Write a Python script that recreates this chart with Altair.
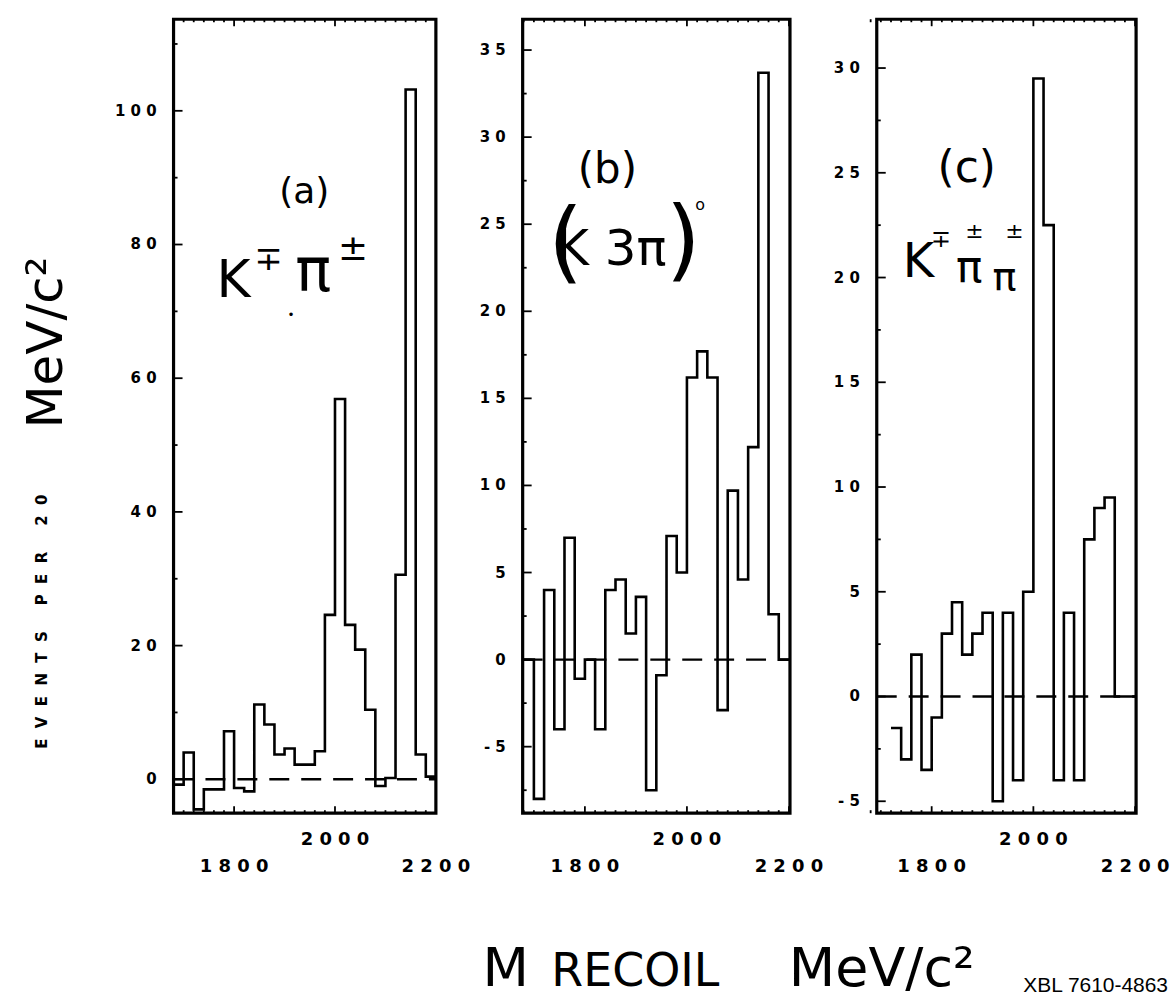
import altair as alt
import pandas as pd

BOLD = "DejaVu Sans"
HAND = "DejaVu Sans"
NB = "\u00a0"

# ---------------- data ----------------
a_bins = [1680, 1700, 1720, 1740, 1760, 1780, 1800, 1820, 1840, 1860, 1880, 1900, 1920,
          1940, 1960, 1980, 2000, 2020, 2040, 2060, 2080, 2100, 2120, 2140, 2160, 2180]
a_counts = [-0.8, 4.0, -4.5, -1.5, -1.5, 7.2, -1.3, -1.8, 11.2, 8.2, 3.7, 4.6, 2.2,
            2.2, 4.2, 24.6, 56.9, 23.1, 19.4, 10.4, -1.0, 0.2, 30.6, 103.2, 3.7, 0.4]

b_bins = [1680, 1700, 1720, 1740, 1760, 1780, 1800, 1820, 1840, 1860, 1880, 1900, 1920,
          1940, 1960, 1980, 2000, 2020, 2040, 2060, 2080, 2100, 2120, 2140, 2160, 2180]
b_counts = [0.0, -8.0, 4.0, -4.0, 7.0, -1.1, 0.0, -4.0, 4.0, 4.6, 1.5, 3.6, -7.5,
            -0.9, 7.1, 5.0, 16.2, 17.7, 16.2, -2.9, 9.7, 4.6, 12.2, 33.7, 2.6, 0.0]

c_bins = [1720, 1740, 1760, 1780, 1800, 1820, 1840, 1860, 1880, 1900, 1920, 1940,
          1960, 1980, 2000, 2020, 2040, 2060, 2080, 2100, 2120, 2140, 2160, 2180]
c_counts = [-1.5, -3.0, 2.0, -3.5, -1.0, 3.0, 4.5, 2.0, 3.0, 4.0, -5.0, 4.0,
            -4.0, 5.0, 29.5, 22.5, -4.0, 4.0, -4.0, 7.5, 9.0, 9.5, 0.0, 0.0]

x_end = 2200

x_major = [1800, 2000, 2200]
x_major_labels = ["1 8 0 0", "2 0 0 0", "2 2 0 0"]
x_minor = [1680, 1700, 1720, 1740, 1760, 1780, 1820, 1840, 1860, 1880, 1900, 1920, 1940,
           1960, 1980, 2020, 2040, 2060, 2080, 2100, 2120, 2140, 2160, 2180]

a_y_major = [0, 20, 40, 60, 80, 100]
a_y_labels = ["0", "2 0", "4 0", "6 0", "8 0", "1 0 0"]
a_y_minor = [10, 30, 50, 70, 90, 110]
b_y_major = [-5, 0, 5, 10, 15, 20, 25, 30, 35]
b_y_labels = ["- 5", "0", "5", "1 0", "1 5", "2 0", "2 5", "3 0", "3 5"]
b_y_minor = [-7.5, -2.5, 2.5, 7.5, 12.5, 17.5, 22.5, 27.5, 32.5]
c_y_major = [-5, 0, 5, 10, 15, 20, 25, 30]
c_y_labels = ["- 5", "0", "5", "1 0", "1 5", "2 0", "2 5", "3 0"]
c_y_minor = [-2.5, 2.5, 7.5, 12.5, 17.5, 22.5, 27.5]

H = 796
ONE = [{}]


def panel(bins, counts, xdom, ydom, W, ymajor, ylabels, yminor, notes, extra):
    xs = alt.Scale(domain=xdom, nice=False, zero=False)
    ys = alt.Scale(domain=ydom, nice=False, zero=False)

    hist_df = pd.DataFrame({"m": bins + [x_end], "n": counts + [counts[-1]]})
    hist = alt.Chart(hist_df).mark_line(
        interpolate="step-after", color="black", strokeWidth=2.6, strokeJoin="miter"
    ).encode(
        x=alt.X("m:Q", scale=xs, axis=None),
        y=alt.Y("n:Q", scale=ys, axis=None),
    )

    zero = alt.Chart(pd.DataFrame({"m": [xdom[0]], "m2": [xdom[1]], "n": [0]})).mark_rule(
        color="black", strokeWidth=2.4, strokeDash=[20, 12]
    ).encode(
        x=alt.X("m:Q", scale=xs, axis=None), x2="m2:Q",
        y=alt.Y("n:Q", scale=ys, axis=None),
    )

    def xt(vals, length, top):
        return alt.Chart(pd.DataFrame({"m": vals})).mark_rule(color="black", strokeWidth=1.8).encode(
            x=alt.X("m:Q", scale=xs, axis=None),
            y=alt.value(0 if top else H),
            y2=alt.value(length if top else H - length),
        )

    def yt(vals, length):
        return alt.Chart(pd.DataFrame({"n": vals})).mark_rule(color="black", strokeWidth=1.8).encode(
            y=alt.Y("n:Q", scale=ys, axis=None),
            x=alt.value(0), x2=alt.value(length),
        )

    ylab = alt.Chart(pd.DataFrame({"n": ymajor, "t": [s.replace(" ", NB) for s in ylabels]})).mark_text(
        align="right", baseline="middle", font=BOLD, fontWeight="bold", fontSize=15, color="black"
    ).encode(y=alt.Y("n:Q", scale=ys, axis=None), x=alt.value(-17), text="t:N")

    xlab_df = pd.DataFrame({"m": x_major, "t": [s.replace(" ", NB) for s in x_major_labels]})
    xlab_base = alt.Chart(xlab_df).mark_text(
        align="center", baseline="middle", font=BOLD, fontWeight="bold", fontSize=18, color="black")
    xlab_up = xlab_base.transform_filter("datum.m == 2000").encode(
        x=alt.X("m:Q", scale=xs, axis=None), y=alt.value(H + 27), text="t:N")
    xlab_lo = xlab_base.transform_filter("datum.m != 2000").encode(
        x=alt.X("m:Q", scale=xs, axis=None), y=alt.value(H + 54), text="t:N")

    layers = [hist, zero,
              xt(x_major, 7, False), xt(x_minor, 3, False),
              xt(x_major, 7, True), xt(x_minor, 3, True),
              yt(ymajor, 9), yt(yminor, 4), ylab, xlab_up, xlab_lo]

    for text, m, n, fs in notes:
        layers.append(
            alt.Chart(alt.Data(values=ONE)).mark_text(
                text=text, fontSize=fs, font=HAND, color="black", baseline="middle", align="center"
            ).encode(
                x=alt.XDatum(m, scale=xs, axis=None),
                y=alt.YDatum(n, scale=ys, axis=None),
            )
        )
    layers.extend(extra)
    return alt.layer(*layers).properties(width=W, height=H)


def free_text(text, x, y, fs, font=HAND, weight="normal", angle=0, align="center",
              baseline="middle"):
    kw = dict(text=text, fontSize=fs, font=font, fontWeight=weight, color="black",
              align=align, baseline=baseline)
    if angle:
        kw["angle"] = angle
    return alt.Chart(alt.Data(values=ONE)).mark_text(**kw).encode(
        x=alt.value(x), y=alt.value(y))


anchor = alt.Chart(alt.Data(values=ONE)).mark_rule(strokeOpacity=0, strokeWidth=1).encode(
    x=alt.value(-171.5), x2=alt.value(-170.5), y=alt.value(-15.5), y2=alt.value(-15.5))

events_words = ["EVENTS", "PER", "20"]
events_title = (NB * 5).join((NB * 2).join(list(w)) for w in events_words)

a_extra = [
    anchor,
    free_text(events_title, -132, 604, 15, font=BOLD, weight="bold", angle=270),
    free_text("MeV/c²", -127, 324, 50, angle=270),
]
b_extra = [
    free_text("M", -17, 969, 54, baseline="alphabetic"),
    free_text("RECOIL", 113, 969, 46, baseline="alphabetic"),
    free_text("MeV/c²", 360, 969, 54, baseline="alphabetic"),
]
c_extra = [
    free_text("XBL 7610-4863", 292, 975, 21, font="Liberation Sans", align="right",
              baseline="alphabetic"),
]

a_notes = [("(a)", 1939, 87.8, 36), ("K", 1799, 74.6, 52), ("∓", 1868, 77.7, 34),
           ("π", 1957, 75.8, 60), ("±", 2036, 79.3, 36), ("•", 1913, 69.4, 12)]
b_notes = [("(b)", 1844, 28.1, 42), ("(", 1762, 23.8, 90), ("K 3π", 1852, 23.5, 50),
           (")", 1993, 23.9, 90), ("o", 2026, 26.1, 16)]
c_notes = [("(c)", 1869, 25.2, 44), ("K", 1774, 20.7, 48), ("∓", 1818, 21.8, 24),
           ("π", 1874, 20.4, 44), ("±", 1884, 22.2, 22), ("π", 1943, 20.0, 40),
           ("±", 1963, 22.2, 22)]

pa = panel(a_bins, a_counts, [1680, 2200], [-5.07, 113.7], 263, a_y_major, a_y_labels, a_y_minor, a_notes, a_extra)
pb = panel(b_bins, b_counts, [1678, 2202], [-8.82, 36.77], 268, b_y_major, b_y_labels, b_y_minor, b_notes, b_extra)
pc = panel(c_bins, c_counts, [1692, 2202], [-5.57, 32.33], 260, c_y_major, c_y_labels, c_y_minor, c_notes, c_extra)

chart = alt.hconcat(pa, pb, pc, spacing=87, bounds="flush").properties(
    padding=0, background="white"
).configure_view(stroke="black", strokeWidth=3.2)

chart.save("out.html", embed_options={"renderer": "svg", "actions": False})
